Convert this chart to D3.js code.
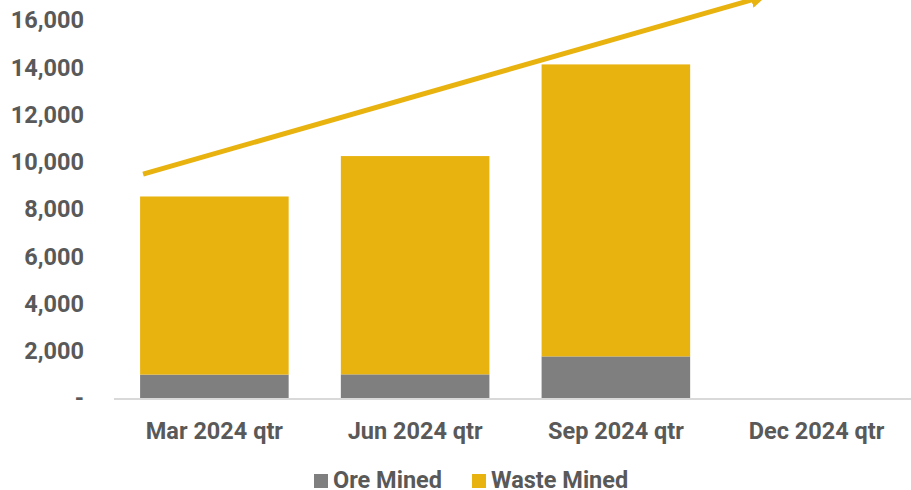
<!DOCTYPE html>
<html>
<head>
<meta charset="utf-8">
<script src="https://cdn.jsdelivr.net/npm/d3@7"></script>
<style>
  body { margin: 0; background: #fff; }
  text { font-family: Roboto, "Liberation Sans", sans-serif; font-weight: 700; fill: #595959; }
</style>
</head>
<body>
<script>
// DATA
const categories = ["Mar 2024 qtr", "Jun 2024 qtr", "Sep 2024 qtr", "Dec 2024 qtr"];
const oreMined = [990, 1000, 1760, 0];
const wasteMined = [7540, 9240, 12360, 0];
const yTicks = [0, 2000, 4000, 6000, 8000, 10000, 12000, 14000, 16000];
// trend arrow, in [category position, value]
const trendArrow = [[0.145, 9480], [3.19, 16880]];

const WIDTH = 911;
const HEIGHT = 490;
const ORE = "#7f7f7f";
const WASTE = "#e8b20f";
const FONT = "23.5px";

const svg = d3.select("body").append("svg").attr("width", WIDTH).attr("height", HEIGHT);

// SCALES
const x = d3.scaleBand().domain(categories).range([114, 917]).paddingInner(0.26).paddingOuter(0.13);
const xPos = d3.scaleLinear().domain([0, categories.length]).range([114, 917]);
const y = d3.scaleLinear().domain([0, 16000]).range([398, 20]);

// Y AXIS LABELS
svg.append("g")
  .selectAll("text")
  .data(yTicks)
  .enter()
  .append("text")
  .attr("x", 84)
  .attr("y", d => y(d))
  .attr("dy", "0.36em")
  .attr("text-anchor", "end")
  .style("font-size", FONT)
  .text(d => d === 0 ? "-" : d3.format(",")(d));

// STACKED BARS
const rows = categories.map((c, i) => ({ cat: c, ore: oreMined[i], waste: wasteMined[i] }));
const stack = d3.stack().keys(["ore", "waste"])(rows);
const colors = { ore: ORE, waste: WASTE };

svg.append("g")
  .selectAll("g")
  .data(stack)
  .enter()
  .append("g")
  .attr("fill", d => colors[d.key])
  .selectAll("rect")
  .data(d => d)
  .enter()
  .append("rect")
  .attr("x", d => x(d.data.cat))
  .attr("width", x.bandwidth())
  .attr("y", d => y(d[1]))
  .attr("height", d => y(d[0]) - y(d[1]));

// X AXIS LINE
svg.append("line")
  .attr("x1", 114).attr("x2", WIDTH)
  .attr("y1", y(0) + 1).attr("y2", y(0) + 1)
  .attr("stroke", "#d9d9d9")
  .attr("stroke-width", 2);

// X LABELS
svg.append("g")
  .selectAll("text")
  .data(categories)
  .enter()
  .append("text")
  .attr("x", d => x(d) + x.bandwidth() / 2)
  .attr("y", 439)
  .attr("text-anchor", "middle")
  .style("font-size", FONT)
  .text(d => d);

// TREND ARROW
svg.append("defs").append("marker")
  .attr("id", "arrowhead")
  .attr("viewBox", "0 0 10 10")
  .attr("refX", 2).attr("refY", 5)
  .attr("markerWidth", 3.2).attr("markerHeight", 3.2)
  .attr("orient", "auto")
  .append("path")
  .attr("d", "M0,0 L10,5 L0,10 z")
  .attr("fill", WASTE);

svg.append("path")
  .datum(trendArrow)
  .attr("d", d3.line().x(d => xPos(d[0])).y(d => y(d[1])))
  .attr("stroke", WASTE)
  .attr("stroke-width", 5)
  .attr("fill", "none")
  .attr("marker-end", "url(#arrowhead)");

// LEGEND
const legendItems = [
  { label: "Ore Mined", color: ORE, x: 314 },
  { label: "Waste Mined", color: WASTE, x: 472 }
];
const legend = svg.append("g")
  .selectAll("g")
  .data(legendItems)
  .enter()
  .append("g")
  .attr("transform", d => `translate(${d.x},474)`);
legend.append("rect").attr("width", 14).attr("height", 14).attr("fill", d => d.color);
legend.append("text")
  .attr("x", 19)
  .attr("y", 14)
  .style("font-size", FONT)
  .text(d => d.label);
</script>
</body>
</html>
